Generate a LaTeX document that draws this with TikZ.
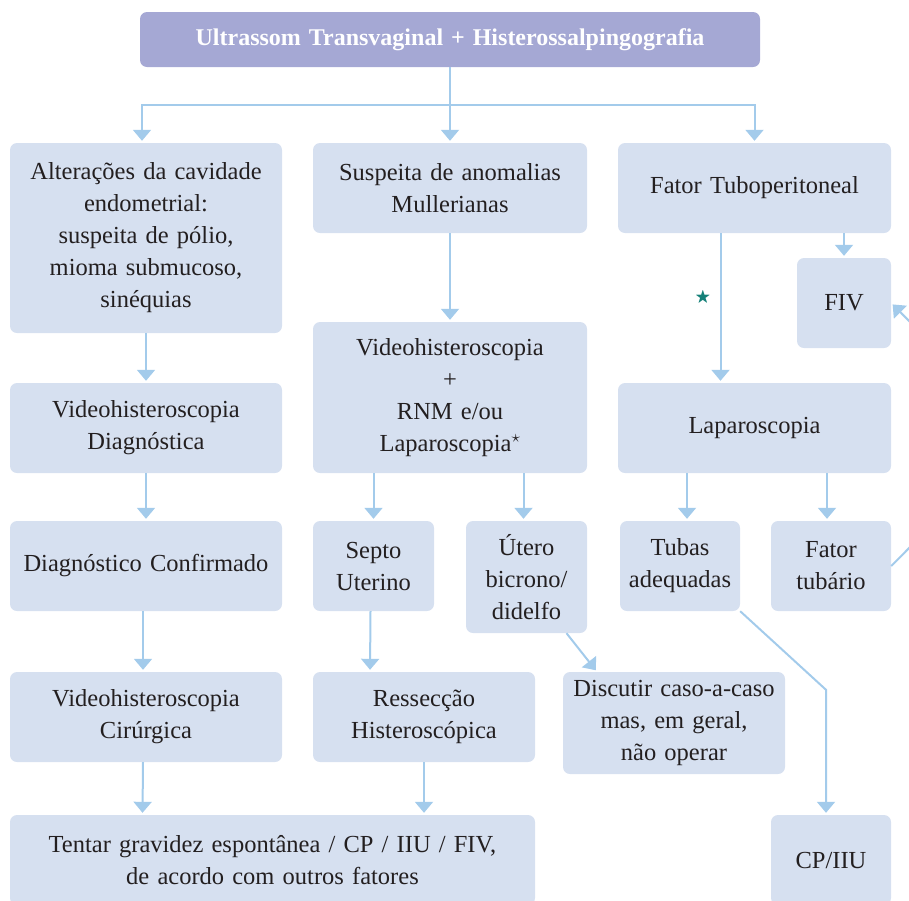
\documentclass[tikz,border=0pt]{standalone}
\usepackage{fontspec}
\usepackage{amssymb}
\setmainfont[WordSpace=0.8]{Liberation Serif}
\usetikzlibrary{arrows.meta}
\definecolor{boxfill}{RGB}{214,224,240}
\definecolor{headfill}{RGB}{165,168,212}
\definecolor{arrowblue}{RGB}{163,203,235}
\definecolor{txt}{RGB}{35,31,32}
\definecolor{starteal}{RGB}{20,128,120}
\begin{document}
\begin{tikzpicture}[x=1pt,y=-1pt,
  box/.style={fill=boxfill, rounded corners=7pt, inner sep=0pt, align=center, text=txt, font=\fontsize{24.5}{32}\selectfont},
  head/.style={box, fill=headfill, text=white, font=\fontsize{24}{28}\selectfont\bfseries},
  arr/.style={draw=arrowblue, line width=2pt, -{Triangle[width=18pt,length=11pt]}, shorten >=2pt}]
\clip (0,0) rectangle (909,900);

\node[head, minimum width=620, minimum height=55, text width=600pt] (uts) at (450,39.5) {Ultrassom Transvaginal + Histerossalpingografia};

\node[box, minimum width=272, minimum height=190, text width=262pt] (alt) at (146,238) {Alterações da cavidade\\endometrial:\\suspeita de pólio,\\mioma submucoso,\\sinéquias};
\node[box, minimum width=274, minimum height=90, text width=262pt] (mull) at (450,188) {Suspeita de anomalias\\Mullerianas};
\node[box, minimum width=273, minimum height=90, text width=262pt] (tubo) at (754.5,188) {Fator Tuboperitoneal};
\node[box, minimum width=94, minimum height=90, text width=90pt] (fiv) at (844,303) {FIV};

\node[box, minimum width=272, minimum height=90, text width=262pt] (vhd) at (146,428) {Videohisteroscopia\\Diagnóstica};
\node[box, minimum width=274, minimum height=151, text width=262pt] (vhr) at (450,397.5) {Videohisteroscopia\\+\\RNM e/ou\\Laparoscopia$^{\star}$};
\node[box, minimum width=273, minimum height=90, text width=262pt] (lap) at (754.5,428) {Laparoscopia};

\node[box, minimum width=272, minimum height=90, text width=262pt] (dxc) at (146,566) {Diagnóstico Confirmado};
\node[box, minimum width=121, minimum height=90, text width=115pt] (septo) at (373.5,566) {Septo\\Uterino};
\node[box, minimum width=121, minimum height=112, text width=115pt] (utero) at (526.5,577) {Útero\\bicrono/\\didelfo};
\node[box, minimum width=120, minimum height=90, text width=115pt] (tubas) at (680,566) {Tubas\\adequadas};
\node[box, minimum width=120, minimum height=90, text width=115pt] (fattub) at (831,566) {Fator\\tubário};

\node[box, minimum width=272, minimum height=90, text width=262pt] (vhc) at (146,717) {Videohisteroscopia\\Cirúrgica};
\node[box, minimum width=222, minimum height=90, text width=215pt] (resse) at (424,717) {Ressecção\\Histeroscópica};
\node[box, minimum width=222, minimum height=102, text width=215pt] (disc) at (674,723) {Discutir caso-a-caso\\mas, em geral,\\não operar};

\node[box, minimum width=525, minimum height=90, text width=515pt] (tentar) at (272.5,860) {Tentar gravidez espontânea / CP / IIU / FIV,\\de acordo com outros fatores};
\node[box, minimum width=120, minimum height=90, text width=115pt] (cpiiu) at (831,860) {CP/IIU};

\node[text=starteal, font=\fontsize{16}{16}\selectfont] (star) at (703,298) {$\bigstar$};

\coordinate (spl) at (450,105);
\draw[arr] (uts.south) -- (mull.north);
\draw[arr] (spl) -| ([xshift=-4]alt.north);
\draw[arr] (spl) -| (tubo.north);

\draw[arr] (alt.south) -- (vhd.north);
\draw[arr] (vhd.south) -- (dxc.north);
\draw[arr] ([xshift=-3]dxc.south) -- ([xshift=-3]vhc.north);
\draw[arr] ([xshift=-3]vhc.south) -- ([xshift=-130]tentar.north);

\draw[arr] (mull.south) -- (vhr.north);
\draw[arr] (vhr.south -| septo.north) -- (septo.north);
\draw[arr] ([xshift=-3]utero.north |- vhr.south) -- ([xshift=-3]utero.north);
\draw[arr] ([xshift=-3]septo.south) -- ([xshift=-54]resse.north);
\draw[arr] (resse.south) -- (resse.south |- tentar.north);
\draw[arr] ([xshift=40]utero.south) -- ([xshift=-77]disc.north);

\draw[arr] (tubo.south -| fiv.north) -- (fiv.north);
\draw[arr] ([xshift=-34]tubo.south) -- ([xshift=-34]lap.north);
\draw[arr] ([xshift=7]tubas.north |- lap.south) -- ([xshift=7]tubas.north);
\draw[arr] ([xshift=-4]fattub.north |- lap.south) -- ([xshift=-4]fattub.north);
\draw[arr] (tubas.south east) -- ([xshift=-5,yshift=125]cpiiu.north) -- ([xshift=-5]cpiiu.north);
\draw[arr] (fattub.east) -- (936,521) -- (936,348) -- (fiv.east);
\end{tikzpicture}
\end{document}
